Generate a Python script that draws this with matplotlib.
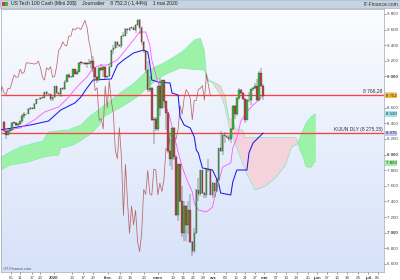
import numpy as np
import matplotlib
matplotlib.use("Agg")
import matplotlib.pyplot as plt
from matplotlib.colors import LinearSegmentedColormap
from matplotlib.patches import Rectangle

plt.rcParams['font.family'] = ['Liberation Sans', 'DejaVu Sans']

# daily sessions 2 dec 2019 -> 1 may 2020 (CFD, sunday sessions included)
opens = [8420, 8300, 8254, 8301, 8309,
         8411, 8405, 8377, 8386, 8428, 8497,
         8515, 8520, 8590, 8593, 8588, 8654,
         8707, 8710, 8730, 8727, 8797,
         8778, 8770, 8710, 8733, 8873,
         8793, 8770, 8848, 8846, 8935, 9020,
         8990, 8995, 9093, 9038, 9058, 9174,
         9173, 9170, 9165, 9160, 9167, 9196,
         9115, 8990, 8954, 9111, 9088, 9125,
         8991, 9000, 9127, 9335, 9368, 9445,
         9402, 9390, 9517, 9517, 9613, 9595,
         9623, 9620, 9600, 9660, 9718, 9627,
         9446, 9320, 9079, 8821, 8857, 8437,
         8462, 8330, 8877, 8597, 8949, 8683,
         8531, 8050, 7948, 8344, 7971, 7222,
         7876, 7400, 6994, 7342, 7100, 7288,
         6879, 6760, 6995, 7553, 7491, 7798,
         7503, 7480, 7813, 7805, 7487, 7635,
         7528, 7680, 8079, 8046, 8254, 8239,
         8230, 8200, 8327, 8627, 8517, 8727,
         8832, 8790, 8716, 8447, 8693, 8694,
         8834, 8850, 8883, 8700, 9040, 8880]
highs = [8425, 8305, 8320, 8330, 8420,
         8418, 8420, 8410, 8435, 8520, 8540,
         8525, 8600, 8610, 8610, 8660, 8715,
         8715, 8740, 8740, 8800, 8815,
         8785, 8780, 8740, 8875, 8880,
         8800, 8855, 8870, 8960, 9030, 9040,
         9000, 9095, 9100, 9085, 9180, 9195,
         9180, 9185, 9190, 9230, 9200, 9260,
         9120, 9010, 9120, 9160, 9130, 9140,
         9010, 9160, 9340, 9400, 9450, 9450,
         9410, 9520, 9570, 9615, 9625, 9630,
         9630, 9640, 9670, 9735, 9740, 9640,
         9450, 9330, 9200, 9010, 8860, 8480,
         8480, 8880, 8980, 8950, 8950, 8690,
         8540, 8200, 8345, 8350, 7990, 7880,
         7880, 7600, 7400, 7350, 7400, 7500,
         6900, 7060, 7560, 7700, 7800, 7800,
         7520, 7830, 7940, 7820, 7650, 7640,
         7700, 8090, 8300, 8260, 8290, 8250,
         8245, 8340, 8640, 8630, 8740, 8850,
         8840, 8800, 8720, 8710, 8800, 8840,
         8860, 8920, 8970, 9070, 9110, 8900]
lows = [8290, 8200, 8250, 8280, 8305,
        8400, 8370, 8350, 8375, 8400, 8470,
        8505, 8515, 8575, 8580, 8580, 8650,
        8700, 8700, 8715, 8725, 8760,
        8765, 8680, 8690, 8730, 8770,
        8760, 8740, 8830, 8830, 8930, 8975,
        8985, 8990, 9030, 9025, 9055, 9150,
        9165, 9150, 9110, 9155, 9100, 9060,
        8970, 8920, 8950, 9070, 8990, 8960,
        8975, 8990, 9120, 9290, 9350, 9360,
        9380, 9370, 9500, 9515, 9550, 9580,
        9610, 9590, 9560, 9650, 9540, 9400,
        9300, 9050, 8800, 8800, 8430, 8140,
        8300, 8300, 8500, 8590, 8600, 8310,
        8020, 7850, 7800, 7930, 7210, 7150,
        7390, 6950, 6900, 6900, 6980, 6870,
        6700, 6740, 6990, 7400, 7470, 7500,
        7450, 7450, 7780, 7480, 7440, 7460,
        7520, 7670, 8030, 8000, 8150, 8215,
        8180, 8150, 8320, 8460, 8500, 8700,
        8770, 8700, 8400, 8440, 8670, 8640,
        8820, 8840, 8680, 8690, 8860, 8700]
closes = [8309, 8254, 8301, 8309, 8411,
          8405, 8377, 8386, 8428, 8497, 8515,
          8520, 8590, 8593, 8588, 8654, 8707,
          8710, 8730, 8727, 8797, 8778,
          8770, 8710, 8733, 8873, 8793,
          8770, 8848, 8846, 8935, 9020, 8990,
          8995, 9093, 9038, 9058, 9174, 9173,
          9170, 9165, 9160, 9167, 9196, 9115,
          8990, 8954, 9111, 9088, 9125, 8991,
          9000, 9127, 9335, 9368, 9445, 9402,
          9390, 9517, 9517, 9613, 9595, 9623,
          9620, 9600, 9660, 9718, 9627, 9446,
          9320, 9079, 8821, 8857, 8437, 8462,
          8330, 8877, 8597, 8949, 8683, 8531,
          8050, 7948, 8344, 7971, 7222, 7876,
          7400, 6994, 7342, 7100, 7288, 6879,
          6760, 6995, 7553, 7491, 7798, 7503,
          7480, 7813, 7805, 7487, 7635, 7528,
          7680, 8079, 8046, 8254, 8239, 8230,
          8200, 8327, 8627, 8517, 8727, 8832,
          8790, 8716, 8447, 8693, 8694, 8834,
          8850, 8883, 8698, 9040, 8880, 8752]

# ichimoku lines (session index, value)
kijun_idx = [-2, 13, 22, 28, 35, 38, 41, 44, 53, 56, 59, 64, 69, 71, 72, 73, 76, 82, 83, 86,
             87, 89, 92, 94, 95, 96, 98, 103, 106, 107, 112, 113, 115, 120, 121, 123, 125, 128]
kijun_val = [8315, 8379, 8430, 8571, 8661, 8738, 8853, 8955, 8968, 9147, 9211, 9301, 9339, 9314,
             9173, 8955, 8930, 8917, 8789, 8763, 8482, 8379, 8341, 8226, 8059, 8021, 7829, 7803,
             7637, 7509, 7483, 7650, 7803, 7803, 8021, 8149, 8200, 8275]
tenkan_idx = [-2, 8, 15, 20, 27, 32, 36, 41, 44, 48, 51, 54, 56, 60, 64, 67, 70, 72, 73, 76,
              79, 82, 84, 86, 88, 91, 93, 94, 96, 100, 103, 104, 106, 108, 112, 113, 115, 117,
              120, 123, 126, 128]
tenkan_val = [8300, 8341, 8443, 8546, 8610, 8738, 8866, 8994, 9109, 9147, 9147, 9186, 9211, 9339,
              9467, 9570, 9570, 9403, 9211, 8930, 8699, 8469, 8251, 8034, 7842, 7637, 7522, 7381,
              7291, 7266, 7330, 7445, 7650, 7842, 7893, 8085, 8213, 8430, 8546, 8635, 8700, 8766]
cloud_idx = [-2, 3, 8, 12, 15, 18, 19, 22, 27, 28, 32, 34, 38, 43, 44, 47, 49, 53, 58, 63,
             67, 71, 79, 87, 89, 94, 97, 99, 100, 101, 103, 107, 108, 109, 111, 112, 113, 114,
             115, 117, 118, 119, 120, 124, 129, 134, 139, 142, 144, 145, 146, 147, 148, 149,
             150, 152, 153, 154]
span_a = [7960, 8034, 8098, 8125, 8149, 8165, 8170, 8290, 8305, 8310, 8315, 8340, 8379, 8507,
          8520, 8580, 8620, 8699, 8802, 8891, 8981, 9083, 9173, 9300, 9339, 9467, 9490, 9330,
          9020, 8960, 8917, 8763, 8700, 8620, 8380, 8290, 8230, 8160, 8085, 7950, 7880, 7820,
          7752, 7547, 7598, 7701, 7867, 8098, 8125, 8136, 8200, 8277, 8330, 8392, 8430, 8494,
          8510, 8520]
span_b = [7795, 7867, 7890, 7906, 7930, 7957, 7965, 7980, 7995, 8085, 8105, 8123, 8180, 8270,
          8290, 8380, 8480, 8540, 8610, 8690, 8763, 8866, 9019, 9109, 9105, 9090, 9085, 9085,
          8960, 8940, 8935, 8880, 8795, 8770, 8475, 8445, 8445, 8345, 8320, 8320, 8305, 8220,
          8220, 8220, 8220, 8220, 8220, 8220, 8220, 8170, 8075, 8015, 7950, 7855, 7840, 7840,
          7905, 7905]
chikou_shift = 26

tenkan_level = 8766.28
kijun_level = 8275.15

tick_pos = [3.5, 8, 14, 18, 24.5, 33.5, 39, 44, 51.5, 57.5, 62.5, 69, 76, 83.5, 88.5, 93.5,
            98.5, 103.5, 109.5, 114.5, 119, 124, 128.5, 134.5, 139.5, 144.5, 150, 154.5, 159.5,
            164.5, 169.5, 175, 180, 184.5]
tick_lab = ['05', '11', '17', '23', '2020', '13', '17', '23', 'févr.', '10', '16', '23', 'mars',
            '10', '16', '22', '28', 'avr.', '08', '15', '21', '27', 'mai', '07', '13', '19',
            '25', 'juin', '07', '12', '18', '24', 'juil.', '06']
months = ['2020', 'févr.', 'mars', 'avr.', 'mai', 'juin', 'juil.']

price_ticks = [9800, 9600, 9400, 9200, 9000, 8600, 8400, 8200, 8000, 7800, 7600, 7400, 7200,
               7000, 6800, 6600]
last_tags = [(8766, '8 766', '#e6c6f2'), (8752, '8 752', '#f2c12e'), (8520, '8 520', '#9fe6f2'),
             (8275, '8 275', '#c9c6fa'), (7893, '7 893', '#9ff0a6')]

fig = plt.figure(figsize=(4, 2.8), dpi=100)
ax = fig.add_axes([1 / 400, 8 / 280, 383 / 400, 263.5 / 280])
xmin, xmax = -1.48, 187.7
ymin, ymax = 6497.6, 9870.4
ax.set_xlim(xmin, xmax)
ax.set_ylim(ymin, ymax)

bg = LinearSegmentedColormap.from_list('bg', ['#fbfcff', '#d6e2f9'])
ax.imshow(np.linspace(0, 1, 256).reshape(-1, 1), extent=[xmin, xmax, ymin, ymax],
          aspect='auto', cmap=bg, zorder=0)

cx = np.array(cloud_idx, dtype=float)
sa = np.array(span_a, dtype=float)
sb = np.array(span_b, dtype=float)
ax.fill_between(cx, sa, sb, where=sa >= sb, interpolate=True, color='#9cf3a8', lw=0, zorder=1)
ax.fill_between(cx, sa, sb, where=sa < sb, interpolate=True, color='#f5d3dd', lw=0, zorder=1)
ax.plot(cx, sa, color='#86e6c8', lw=0.5, zorder=1.5)
ax.plot(cx, sb, color='#8be7a0', lw=0.5, zorder=1.5)

ax.axhline(tenkan_level, color='#ff4040', lw=0.95, zorder=2.5)
ax.axhline(kijun_level, color='#ff4040', lw=0.95, zorder=2.5)
ax.text(xmax - 0.8, tenkan_level + 18, '8 766,28', ha='right', va='bottom', fontsize=3.6,
        color='#333333', zorder=6)
ax.text(xmax - 0.8, kijun_level + 18, 'KIJUN DLY (8 275,15)', ha='right', va='bottom',
        fontsize=3.6, color='#333333', zorder=6)

n = len(closes)
x = np.arange(n)
o = np.array(opens, dtype=float)
h = np.array(highs, dtype=float)
l = np.array(lows, dtype=float)
c = np.array(closes, dtype=float)

ax.plot(x - chikou_shift, c, color='#b55858', lw=0.55, alpha=0.9, zorder=3)
ax.plot(kijun_idx, kijun_val, color='#1c1ce6', lw=0.75, zorder=4)
ax.plot(tenkan_idx, tenkan_val, color='#ff55ff', lw=0.6, zorder=4)

up = c >= o
ax.vlines(x, l, h, color='#3a3a3a', lw=0.35, zorder=5)
body_lo = np.minimum(o, c)
body_h = np.maximum(np.abs(c - o), 8)
ax.bar(x, body_h, bottom=body_lo, width=0.75,
       color=np.where(up, '#3cb83c', '#c04444'), edgecolor='#2a2a2a', linewidth=0.2, zorder=6)

ax.text(0.004, 0.008, '©IT-Finance.com', transform=ax.transAxes, fontsize=2.8,
        color='#555555', zorder=7)

ax.set_xticks(tick_pos)
ax.set_xticklabels(tick_lab)
for t in ax.get_xticklabels():
    if t.get_text() in months:
        t.set_fontweight('bold')
ax.tick_params(axis='x', labelsize=3.2, length=1.5, width=0.4, pad=1.2, colors='#444444')

ax.yaxis.tick_right()
ax.set_yticks(price_ticks)
ax.set_yticklabels([f'{p // 1000} {p % 1000:03d}' for p in price_ticks])
for t in ax.get_yticklabels():
    if t.get_text().endswith('000'):
        t.set_fontweight('bold')
ax.tick_params(axis='y', labelsize=3.2, length=1.5, width=0.4, pad=1.0, colors='#444444')

for val, txt, col in last_tags:
    ax.text(1.004, val, txt, transform=ax.get_yaxis_transform(), fontsize=3.2, va='center',
            ha='left', color='#222222', clip_on=False, zorder=8,
            bbox=dict(boxstyle='square,pad=0.12', fc=col, ec='none'))

for sp in ax.spines.values():
    sp.set_color('#a0a8b8')
    sp.set_linewidth(0.5)

fig.patches.append(Rectangle((0, 1 - 8 / 280), 1, 8 / 280, transform=fig.transFigure,
                             fc='#c6d3e1', ec='#9aa8b8', lw=0.4))
fig.patches.append(Rectangle((2 / 400, 1 - 6 / 280), 2.5 / 400, 4 / 280, transform=fig.transFigure,
                             fc='#d23a3a', ec='none'))
fig.patches.append(Rectangle((5 / 400, 1 - 6 / 280), 2.5 / 400, 4 / 280, transform=fig.transFigure,
                             fc='#3cb83c', ec='none'))
fig.text(11 / 400, 1 - 4 / 280,
         'US Tech 100 Cash (Mini 20$)    Journalier    8 752,3 (-1,44%)    1 mai 2020',
         fontsize=3.6, va='center', ha='left', color='#222222')
fig.text(398 / 400, 1 - 4 / 280, 'IT-Finance.com', fontsize=3.6, va='center', ha='right',
         color='#333333')

fig.savefig('out.png', dpi=100, facecolor='white')
